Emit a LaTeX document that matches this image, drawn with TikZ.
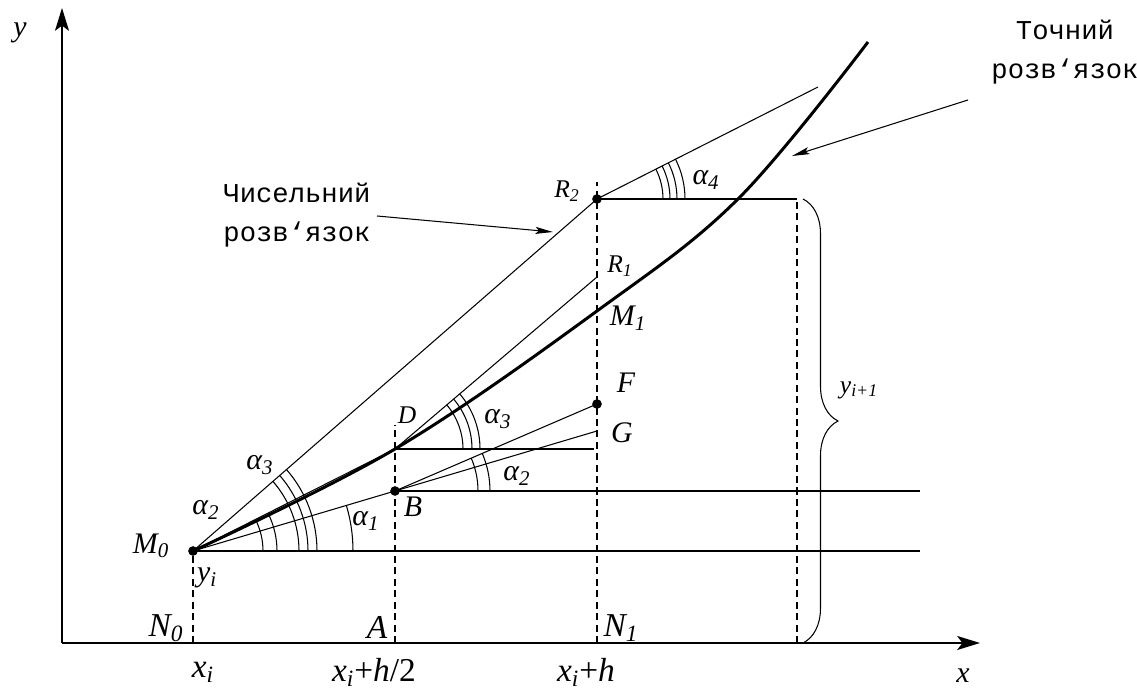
\documentclass[tikz,border=0pt]{standalone}
\usepackage{fontspec}
\usepackage{tikz}
\usetikzlibrary{arrows.meta, decorations.pathreplacing}
\newfontfamily\tnr{Liberation Serif}
\newfontfamily\cyrmono{Liberation Mono}

\begin{document}
\begin{tikzpicture}[
    x=0.02cm, y=0.02cm,
    axis/.style={line width=0.9pt, -{Stealth[length=13pt, width=8pt, inset=3pt]}},
    thinline/.style={line width=0.6pt},
    exact/.style={line width=1.7pt},
    guide/.style={line width=0.6pt, dash pattern=on 4pt off 2.5pt},
    pointer/.style={line width=0.6pt, -{Stealth[length=10pt, width=4pt, inset=2pt]}},
    dot/.style={circle, fill=black, inner sep=0pt, minimum size=5.5pt},
    lbl/.style={font=\fontsize{17}{19}\selectfont\tnr\itshape, inner sep=0pt},
    biglbl/.style={font=\fontsize{19}{21}\selectfont\tnr\itshape, inner sep=0pt},
    smalllbl/.style={font=\fontsize{14.5}{16}\selectfont\tnr\itshape, inner sep=0pt},
    anglbl/.style={font=\fontsize{17}{19}\selectfont\tnr\itshape, inner sep=0pt},
    caption/.style={font=\fontsize{15.5}{22.5}\selectfont\cyrmono, align=center, inner sep=0pt}
]
    \useasboundingbox (0,0) rectangle (1137,692);

    % Points
    \coordinate (O) at (62,49);
    \coordinate (xend) at (980,49);
    \coordinate (yend) at (62,684);
    \coordinate (M0) at (193,141);
    \coordinate (N0) at (193,49);
    \coordinate (B) at (395,201);
    \coordinate (D) at (395,243);
    \coordinate (Dtop) at (395,267);
    \coordinate (A) at (395,49);
    \coordinate (G) at (597,261);
    \coordinate (F) at (597,288);
    \coordinate (M1) at (597,381);
    \coordinate (R1) at (597,415);
    \coordinate (R2) at (597,493);
    \coordinate (N1top) at (597,510);
    \coordinate (N1) at (597,49);
    \coordinate (R2end) at (818,605);
    \coordinate (P) at (797,493);
    \coordinate (Pbot) at (797,49);
    \coordinate (Mend) at (920,141);
    \coordinate (Bend) at (920,201);
    \coordinate (Dend) at (594,243);
    \coordinate (c4) at (738,493);
    \coordinate (c5) at (868,650);

    % Axes
    \draw[axis] (O) -- (xend);
    \draw[axis] (O) -- (yend);
    \node[lbl] (ylbl) at (20,659) {y};
    \node[lbl] (xlbl) at (963,16) {x};

    % Guides
    \draw[guide] (N0) -- (M0);
    \draw[guide] (A) -- (Dtop);
    \draw[guide] (N1) -- (N1top);
    \draw[guide] (Pbot) -- (P);

    % Horizontals
    \draw[thinline] (M0) -- (Mend);
    \draw[thinline] (B) -- (Bend);
    \draw[thinline] (D) -- (Dend);
    \draw[thinline] (R2) -- (P);

    % Numerical solution
    \draw[thinline] (M0) -- (G);
    \draw[thinline] (M0) -- (D);
    \draw[thinline] (M0) -- (R2);
    \draw[thinline] (B) -- (F);
    \draw[thinline] (D) -- (R1);
    \draw[thinline] (R2) -- (R2end);

    % Exact solution
    \draw[exact] plot[smooth, tension=0.6] coordinates {(M0) (D) (M1) (c4) (c5)};

    % Angles
    \draw[thinline] (M0) ++(0:160) arc[start angle=0, end angle=16.5, radius=160];
    \foreach \r in {70,84}
        \draw[thinline] (M0) ++(0:\r) arc[start angle=0, end angle=26.8, radius=\r];
    \foreach \r in {106,115,124}
        \draw[thinline] (M0) ++(0:\r) arc[start angle=0, end angle=41, radius=\r];
    \foreach \r in {83,95}
        \draw[thinline] (B) ++(0:\r) arc[start angle=0, end angle=23.3, radius=\r];
    \foreach \r in {68,77,85}
        \draw[thinline] (D) ++(0:\r) arc[start angle=0, end angle=40.4, radius=\r];
    \foreach \r in {66,73,80,88}
        \draw[thinline] (R2) ++(0:\r) arc[start angle=0, end angle=26.9, radius=\r];

    % Dots
    \node[dot] (dM0) at (M0) {};
    \node[dot] (dB) at (B) {};
    \node[dot] (dF) at (F) {};
    \node[dot] (dR2) at (R2) {};

    % Brace
    \coordinate (btop) at (803,493);
    \coordinate (bbot) at (803,49);
    \draw[thinline, decorate, decoration={brace, amplitude=0.7cm}] (btop) -- (bbot);
    \node[smalllbl] (yi1lbl) at (859,302) {y\textsubscript{i+1}};

    % Labels
    \node[lbl] (M0lbl) at (151,146) {M\textsubscript{0}};
    \node[lbl] (yilbl) at (207,114) {y\textsubscript{i}};
    \node[biglbl] (N0lbl) at (166,64) {N\textsubscript{0}};
    \node[biglbl] (Albl) at (377,65) {A};
    \node[biglbl] (N1lbl) at (621,64) {N\textsubscript{1}};
    \node[biglbl] (xilbl) at (203,20) {x\textsubscript{i}};
    \node[biglbl] (xihhlbl) at (374,20) {x\textsubscript{i}{\upshape +}h{\upshape /2}};
    \node[biglbl] (xihlbl) at (586,20) {x\textsubscript{i}{\upshape +}h};
    \node[lbl] (Blbl) at (413,185) {B};
    \node[smalllbl] (Dlbl) at (407,277) {D};
    \node[lbl] (Flbl) at (626,309) {F};
    \node[lbl] (Glbl) at (622,259) {G};
    \node[lbl] (M1lbl) at (628,374) {M\textsubscript{1}};
    \node[smalllbl] (R1lbl) at (620,426) {R\textsubscript{1}};
    \node[smalllbl] (R2lbl) at (567,501) {R\textsubscript{2}};

    \node[anglbl] (a1lbl) at (366,171) {α\textsubscript{1}};
    \node[anglbl] (a2lbl) at (206,182) {α\textsubscript{2}};
    \node[anglbl] (a3lbl) at (260,227) {α\textsubscript{3}};
    \node[anglbl] (a2Blbl) at (517,216) {α\textsubscript{2}};
    \node[anglbl] (a3Dlbl) at (498,273) {α\textsubscript{3}};
    \node[anglbl] (a4lbl) at (706,512) {α\textsubscript{4}};

    % Captions
    \node[caption] (numtxt) at (297,477) {Чисельний\\розв‘язок};
    \coordinate (numtail) at (377,476);
    \coordinate (numtip) at (553,460);
    \draw[pointer] (numtail) -- (numtip);

    \node[caption] (exacttxt) at (1065,640) {Точний\\розв‘язок};
    \coordinate (exacttail) at (968,592);
    \coordinate (exacttip) at (792,536);
    \draw[pointer] (exacttail) -- (exacttip);
\end{tikzpicture}
\end{document}
